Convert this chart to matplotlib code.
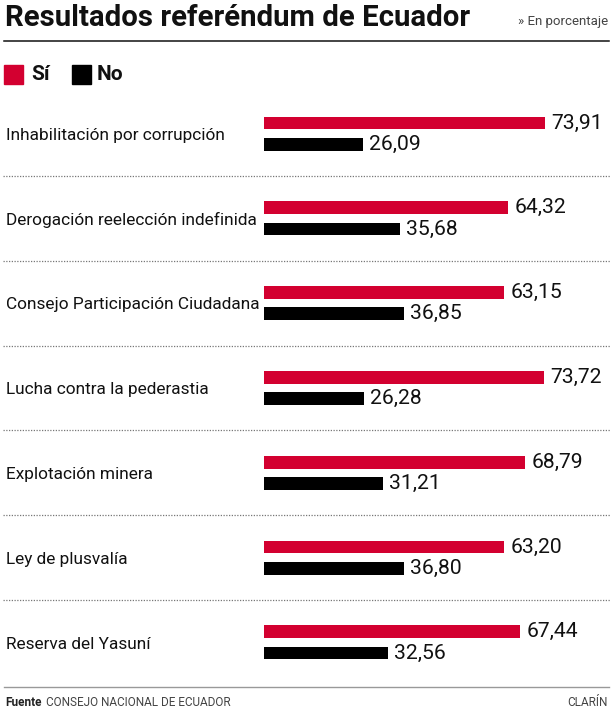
import matplotlib
matplotlib.use("Agg")
import matplotlib.pyplot as plt
import matplotlib.transforms as mtrans
from matplotlib.lines import Line2D
from matplotlib.patches import Rectangle
import numpy as np

plt.rcParams['font.family'] = ['Roboto', 'DejaVu Sans']

categories = [
    "Inhabilitación por corrupción",
    "Derogación reelección indefinida",
    "Consejo Participación Ciudadana",
    "Lucha contra la pederastia",
    "Explotación minera",
    "Ley de plusvalía",
    "Reserva del Yasuní",
]
si_values = [73.91, 64.32, 63.15, 73.72, 68.79, 63.20, 67.44]
no_values = [26.09, 35.68, 36.85, 26.28, 31.21, 36.80, 32.56]
series_names = ["Sí", "No"]

RED = "#d30030"
BLACK = "#000000"

W, H = 613, 727
fig = plt.figure(figsize=(W / 100, H / 100), dpi=100)

def fx(px):
    return px / W

def fy(py):
    return 1 - py / H

# bar axes
top_px, bot_px = 91.2, 684.8
ax = fig.add_axes([fx(264), fy(bot_px), fx(W - 264), (bot_px - top_px) / H])
ax.set_xlim(0, (W - 264) / 3.8)
n = len(categories)
ax.set_ylim(n - 0.5, -0.5)
ax.axis("off")

y = np.arange(n)
off, h = 0.125, 0.15
ax.barh(y - off, si_values, height=h, color=RED, edgecolor="none")
ax.barh(y + off, no_values, height=h, color=BLACK, edgecolor="none")

for yi, v in zip(y - off, si_values):
    ax.annotate(f"{v:.2f}".replace(".", ","), (v, yi), xytext=(4.5, 0), textcoords="offset points",
                va="center", ha="left", fontsize=15.2, color="#111", annotation_clip=False)
for yi, v in zip(y + off, no_values):
    ax.annotate(f"{v:.2f}".replace(".", ","), (v, yi), xytext=(4.5, 0), textcoords="offset points",
                va="center", ha="left", fontsize=15.2, color="#111", annotation_clip=False)

blend = mtrans.blended_transform_factory(fig.transFigure, ax.transData)
for i, c in enumerate(categories):
    fig.text(fx(6), i + 0.02, c, transform=blend, va="center", ha="left", fontsize=12.4, color="#111")

for i in range(n - 1):
    fig.add_artist(Line2D([fx(3), fx(610)], [i + 0.5, i + 0.5], transform=blend,
                          color="#777", linewidth=0.9, linestyle=(0, (1, 1.2))))

# title
fig.text(fx(5), fy(18), "Resultados referéndum de Ecuador", fontsize=21.2, fontweight="bold",
         va="center", ha="left", color="#111")
fig.text(fx(608), fy(21), "» En porcentaje", fontsize=9.5, va="center", ha="right", color="#444")
fig.add_artist(Line2D([fx(4), fx(609)], [fy(41), fy(41)], color="#111", linewidth=1.1))

# legend
sq = 19
fig.add_artist(Rectangle((fx(4), fy(83.5)), fx(sq), sq / H, color=RED, transform=fig.transFigure))
fig.text(fx(31), fy(75), series_names[0], fontsize=15, fontweight="bold", va="center", ha="left", color="#111")
fig.add_artist(Rectangle((fx(72), fy(83.5)), fx(sq), sq / H, color=BLACK, transform=fig.transFigure))
fig.text(fx(97), fy(75), series_names[1], fontsize=15, fontweight="bold", va="center", ha="left", color="#111")

# footer
fig.add_artist(Line2D([fx(4), fx(609)], [fy(687), fy(687)], color="#999", linewidth=1.0))
t = fig.text(fx(5), fy(702), "Fuente", fontsize=8.5, fontweight="bold", va="center", ha="left", color="#222")
fig.canvas.draw()
bb = t.get_window_extent()
fig.text(bb.x1 / W + fx(4), fy(702), "CONSEJO NACIONAL DE ECUADOR", fontsize=8.5, va="center",
         ha="left", color="#444")
fig.text(fx(608), fy(702), "CLARÍN", fontsize=8.5, va="center", ha="right", color="#444")

fig.savefig("out.png", dpi=100, facecolor="white")
